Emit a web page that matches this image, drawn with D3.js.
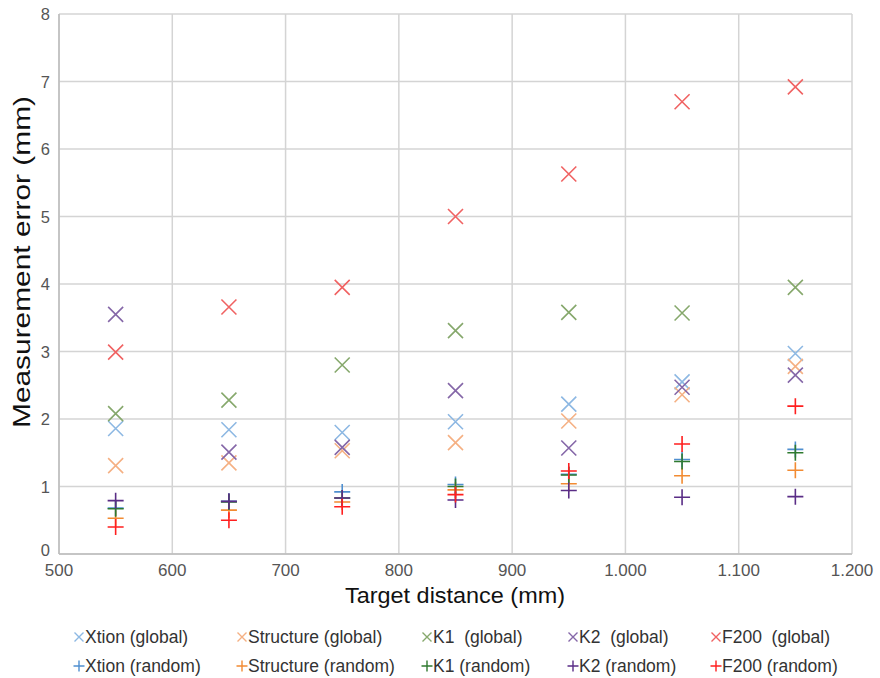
<!DOCTYPE html>
<html>
<head>
<meta charset="utf-8">
<script src="https://cdn.jsdelivr.net/npm/d3@7"></script>
<style>
  body { margin: 0; background: #fff; }
  svg { font-family: "Liberation Sans", Arial, sans-serif; }
</style>
</head>
<body>
<div id="chart"></div>
<script>
// target distances (mm)
const distances = [550, 650, 750, 850, 950, 1050, 1150];

const xtionGlobal     = [1.86, 1.84, 1.80, 1.96, 2.22, 2.55, 2.97];
const structureGlobal = [1.31, 1.35, 1.53, 1.65, 1.97, 2.36, 2.78];
const k1Global        = [2.08, 2.28, 2.80, 3.31, 3.58, 3.57, 3.95];
const k2Global        = [3.55, 1.51, 1.58, 2.42, 1.57, 2.47, 2.65];
const f200Global      = [2.99, 3.66, 3.95, 5.00, 5.63, 6.70, 6.92];

const xtionRandom     = [0.68, 0.78, 0.92, 1.03, 1.18, 1.40, 1.55];
const structureRandom = [0.53, 0.65, 0.77, 0.95, 1.04, 1.16, 1.24];
const k1Random        = [0.67, 0.77, 0.83, 1.00, 1.17, 1.37, 1.50];
const k2Random        = [0.79, 0.78, 0.83, 0.80, 0.94, 0.84, 0.85];
const f200Random      = [0.40, 0.50, 0.70, 0.88, 1.23, 1.63, 2.19];

const xTicks = [500, 600, 700, 800, 900, 1000, 1100, 1200];
const yTicks = [0, 1, 2, 3, 4, 5, 6, 7, 8];

const series = [
  {name: "Xtion (global)",      values: xtionGlobal,     shape: "x", color: "#8db8e3"},
  {name: "Structure (global)",  values: structureGlobal, shape: "x", color: "#f5b083"},
  {name: "K1  (global)",        values: k1Global,        shape: "x", color: "#86a86c"},
  {name: "K2  (global)",        values: k2Global,        shape: "x", color: "#8567a8"},
  {name: "F200  (global)",      values: f200Global,      shape: "x", color: "#f06262"},
  {name: "Xtion (random)",      values: xtionRandom,     shape: "+", color: "#4f8fd0"},
  {name: "Structure (random)",  values: structureRandom, shape: "+", color: "#f28b32"},
  {name: "K1 (random)",         values: k1Random,        shape: "+", color: "#2f7a2f"},
  {name: "K2 (random)",         values: k2Random,        shape: "+", color: "#5a2d86"},
  {name: "F200 (random)",       values: f200Random,      shape: "+", color: "#ff1f1f"}
];

const width = 880, height = 678;
const margin = {left: 59, right: 28, top: 14, bottom: 124};

const svg = d3.select("#chart").append("svg")
  .attr("width", width)
  .attr("height", height);

const x = d3.scaleLinear().domain([500, 1200]).range([margin.left, width - margin.right]);
const y = d3.scaleLinear().domain([0, 8]).range([height - margin.bottom, margin.top]);

const fmt = d3.formatLocale({decimal: ",", thousands: ".", grouping: [3], currency: ["", ""]}).format(",");

// grid
svg.append("g").selectAll("line").data(yTicks).join("line")
  .attr("x1", x(500)).attr("x2", x(1200))
  .attr("y1", d => y(d)).attr("y2", d => y(d))
  .attr("stroke", "#d4d4d4").attr("stroke-width", 1.5);
svg.append("g").selectAll("line").data(xTicks).join("line")
  .attr("x1", d => x(d)).attr("x2", d => x(d))
  .attr("y1", y(0)).attr("y2", y(8))
  .attr("stroke", "#d4d4d4").attr("stroke-width", 1.5);

// axis lines
svg.append("line").attr("x1", x(500)).attr("x2", x(1200)).attr("y1", y(0)).attr("y2", y(0))
  .attr("stroke", "#bdbdbd").attr("stroke-width", 1.5);
svg.append("line").attr("x1", x(500)).attr("x2", x(500)).attr("y1", y(0)).attr("y2", y(8))
  .attr("stroke", "#bdbdbd").attr("stroke-width", 1.5);

// tick labels
svg.append("g").selectAll("text").data(yTicks).join("text")
  .attr("x", x(500) - 9).attr("y", d => y(d) + (d === 0 ? 2 : 6))
  .attr("text-anchor", "end").attr("font-size", 16.5).attr("fill", "#555")
  .text(d => d);
svg.append("g").selectAll("text").data(xTicks).join("text")
  .attr("x", d => x(d)).attr("y", y(0) + 22)
  .attr("text-anchor", "middle").attr("font-size", 17).attr("fill", "#555")
  .text(d => fmt(d));

// axis titles
svg.append("text")
  .attr("x", 455).attr("y", 603)
  .attr("text-anchor", "middle").attr("font-size", 22).attr("fill", "#111")
  .attr("textLength", 220).attr("lengthAdjust", "spacingAndGlyphs")
  .text("Target distance (mm)");
svg.append("text")
  .attr("transform", "translate(30, 262) rotate(-90)")
  .attr("text-anchor", "middle").attr("font-size", 24).attr("fill", "#111")
  .attr("textLength", 332).attr("lengthAdjust", "spacingAndGlyphs")
  .text("Measurement error (mm)");

function markerPath(shape, r) {
  const p = d3.path();
  if (shape === "x") {
    p.moveTo(-r, -r); p.lineTo(r, r);
    p.moveTo(-r, r); p.lineTo(r, -r);
  } else {
    p.moveTo(-r, 0); p.lineTo(r, 0);
    p.moveTo(0, -r); p.lineTo(0, r);
  }
  return p.toString();
}

// points
series.forEach(s => {
  const r = s.shape === "x" ? 7.5 : 8;
  svg.append("g").selectAll("path").data(s.values).join("path")
    .attr("transform", (d, i) => `translate(${x(distances[i])},${y(d)})`)
    .attr("d", markerPath(s.shape, r))
    .attr("fill", "none")
    .attr("stroke", s.color)
    .attr("stroke-width", 1.6);
});

// legend
const legendX = [79, 242, 427, 573, 716];
const legendY = [637, 666];
const legend = svg.append("g").selectAll("g").data(series).join("g")
  .attr("transform", (d, i) => `translate(${legendX[i % 5]},${legendY[Math.floor(i / 5)]})`);
legend.append("path")
  .attr("d", d => markerPath(d.shape, d.shape === "x" ? 4.5 : 5.5))
  .attr("fill", "none").attr("stroke", d => d.color).attr("stroke-width", 1.4);
legend.append("text")
  .attr("x", 6).attr("y", 6)
  .attr("font-size", 17.5).attr("fill", "#333")
  .style("white-space", "pre")
  .text(d => d.name);
</script>
</body>
</html>
